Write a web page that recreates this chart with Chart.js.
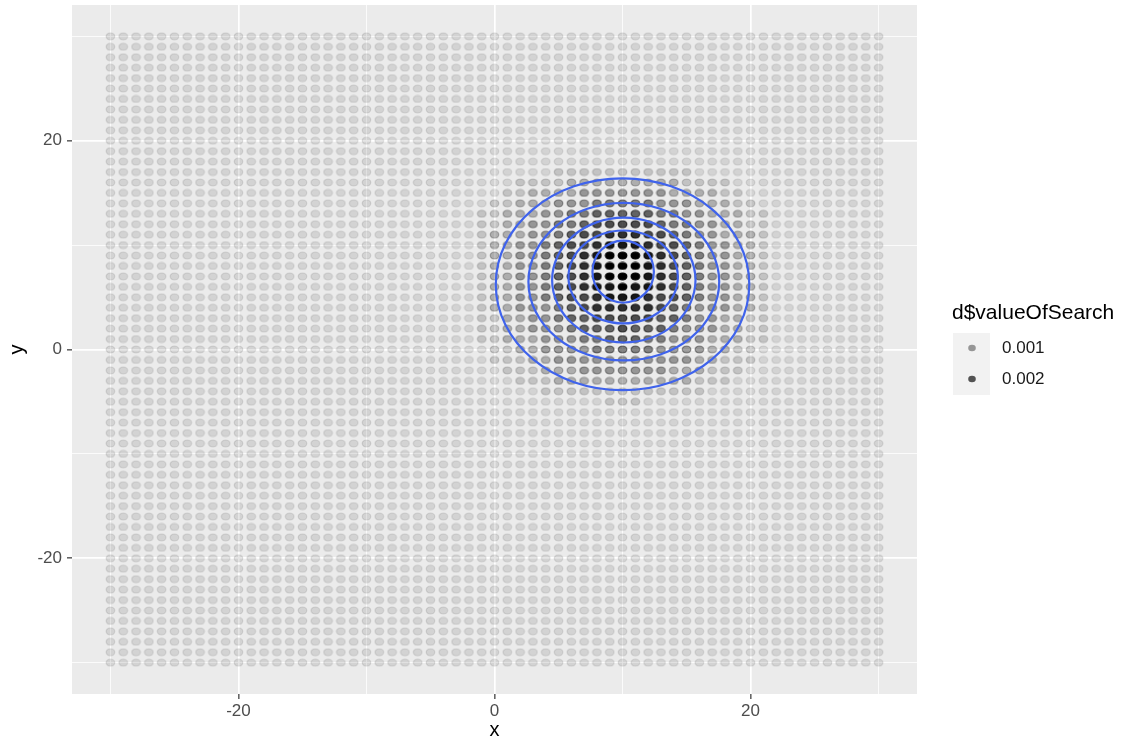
<!DOCTYPE html>
<html>
<head>
<meta charset="utf-8">
<script src="https://cdn.jsdelivr.net/npm/chart.js@4.4.0/dist/chart.umd.min.js"></script>
<style>
  body { margin: 0; background: #ffffff; }
  #wrap { width: 1145px; height: 740px; }
</style>
</head>
<body>
<div id="wrap"><canvas id="densityChart" width="1145" height="740"></canvas></div>
<script>
// grid of search positions (x and y both run -30..30)
const gridX = [];
for (let v = -30; v <= 30; v++) gridX.push(v);
const gridY = gridX.slice();

// axis ticks (grid lines every 10, labels on the majors)
const tickValues = [-30, -20, -10, 0, 10, 20, 30];
const majorTicks = [-20, 0, 20];

// shade, 0 = faint background dot ... 9 = black
// first row is y = 17, first column is x = -2
const shadeTopY = 17;
const shadeLeftX = -2;
const shadeRows = [
  "0000000111111111110000000", // 17
  "0000111122222222211110000", // 16
  "0001122223333333222211000", // 15
  "0011222333444443332221100", // 14
  "0112223344555554433222110", // 13
  "0112233445666665443322110", // 12
  "0122233456677766543322210", // 11
  "0122334566788876654332210", // 10
  "0122334567899987654332210", // 9
  "0122334567899987654332210", // 8
  "0122334567899987654332210", // 7
  "0122334567889887654332210", // 6
  "0122334566788876654332210", // 5
  "0122333456777776543332210", // 4
  "0112233455666665543322110", // 3
  "0112233345556555433322110", // 2
  "0112223334455544333222110", // 1
  "0011223333444443333221100", // 0
  "0011122333333333332211100", // -1
  "0001112223333333222111000", // -2
  "0000111222222222221110000", // -3
  "0000001111111111111000000", // -4
  "0000000000011100000000000"  // -5
];
// opacity of each shade step
const alphaLevels = [0.1, 0.17, 0.26, 0.36, 0.47, 0.58, 0.68, 0.8, 0.9, 1.0];

// density contours, points read around each ring
const contour1 = [[19.9,6.25],[19.15,10.14],[17.0,13.43],[13.79,15.63],[10.0,16.4],[6.21,15.63],[3.0,13.43],[0.85,10.14],
                  [0.1,6.25],[0.85,2.36],[3.0,-0.93],[6.21,-3.13],[10.0,-3.9],[13.79,-3.13],[17.0,-0.93],[19.15,2.36]];
const contour2 = [[17.55,6.5],[16.98,9.39],[15.37,11.84],[12.95,13.48],[10.1,14.05],[7.25,13.48],[4.83,11.84],[3.22,9.39],
                  [2.65,6.5],[3.22,3.61],[4.83,1.16],[7.25,-0.48],[10.1,-1.05],[12.95,-0.48],[15.37,1.16],[16.98,3.61]];
const contour3 = [[15.7,6.65],[15.27,8.94],[14.06,10.88],[12.24,12.18],[10.1,12.63],[7.96,12.18],[6.14,10.88],[4.93,8.94],
                  [4.5,6.65],[4.93,4.36],[6.14,2.42],[7.96,1.12],[10.1,0.67],[12.24,1.12],[14.06,2.42],[15.27,4.36]];
const contour4 = [[14.32,6.95],[14.0,8.65],[13.07,10.1],[11.68,11.06],[10.05,11.4],[8.42,11.06],[7.03,10.1],[6.1,8.65],
                  [5.78,6.95],[6.1,5.25],[7.03,3.8],[8.42,2.84],[10.05,2.5],[11.68,2.84],[13.07,3.8],[14.0,5.25]];
const contour5 = [[12.45,7.45],[12.27,8.59],[11.75,9.55],[10.97,10.19],[10.05,10.42],[9.13,10.19],[8.35,9.55],[7.83,8.59],
                  [7.65,7.45],[7.83,6.31],[8.35,5.35],[9.13,4.71],[10.05,4.48],[10.97,4.71],[11.75,5.35],[12.27,6.31]];
const contours = [contour1, contour2, contour3, contour4, contour5];

// legend
const legendTitle = "d$valueOfSearch";
const legendLabels = ["0.001", "0.002"];
const legendAlphas = [0.38, 0.66];

function shadeAt(x, y) {
  const r = shadeTopY - y;
  if (r < 0 || r >= shadeRows.length) return 0;
  const c = x - shadeLeftX;
  if (c < 0 || c >= shadeRows[r].length) return 0;
  return Number(shadeRows[r][c]);
}

// slightly wide dots like the original render
const dotImages = alphaLevels.map(function(a) {
  const c = document.createElement('canvas');
  c.width = 11; c.height = 9;
  const g = c.getContext('2d');
  g.beginPath();
  g.ellipse(5.5, 4.5, 4.3, 3.5, 0, 0, Math.PI * 2);
  g.fillStyle = 'rgba(0,0,0,' + a + ')';
  g.fill();
  g.lineWidth = 1.2;
  g.strokeStyle = 'rgba(0,0,0,' + a + ')';
  g.stroke();
  return c;
});

const points = [];
gridY.forEach(function(y) {
  gridX.forEach(function(x) {
    points.push({ x: x, y: y, v: shadeAt(x, y) });
  });
});

const lineBlue = '#3f63ec';
// each ring is wrapped with one extra point on both ends so the smoothed
// curve has real neighbours everywhere; the two padding segments are hidden
const contourSets = contours.map(function(ring) {
  const n = ring.length;
  const wrapped = [ring[n - 1]].concat(ring, [ring[0], ring[1]]);
  const lastIndex = wrapped.length - 1;
  return {
    data: wrapped.map(function(p) { return { x: p[0], y: p[1] }; }),
    showLine: true,
    borderColor: lineBlue,
    borderWidth: 2.2,
    pointRadius: 0,
    tension: 0.35,
    fill: false,
    order: 1,
    segment: {
      borderColor: function(c) {
        return (c.p0DataIndex === 0 || c.p1DataIndex === lastIndex) ? 'rgba(0,0,0,0)' : lineBlue;
      }
    }
  };
});

const panelBackground = {
  id: 'panelBackground',
  beforeDraw(chart) {
    const a = chart.chartArea;
    const ctx = chart.ctx;
    ctx.save();
    ctx.fillStyle = '#ebebeb';
    ctx.fillRect(a.left, a.top, a.right - a.left, a.bottom - a.top);
    ctx.restore();
  }
};

const alphaLegend = {
  id: 'alphaLegend',
  afterDraw(chart) {
    const ctx = chart.ctx;
    ctx.save();
    ctx.fillStyle = '#000000';
    ctx.font = '21px "Liberation Sans", Arial, sans-serif';
    ctx.textBaseline = 'middle';
    ctx.textAlign = 'left';
    ctx.fillText(legendTitle, 952, 313);
    ctx.fillStyle = '#f2f2f2';
    ctx.fillRect(953, 333, 37, 62);
    legendLabels.forEach(function(label, i) {
      const cy = 348 + i * 31;
      ctx.beginPath();
      ctx.ellipse(972, cy, 3.8, 3.2, 0, 0, Math.PI * 2);
      ctx.fillStyle = 'rgba(0,0,0,' + legendAlphas[i] + ')';
      ctx.fill();
      ctx.fillStyle = '#1a1a1a';
      ctx.font = '17px "Liberation Sans", Arial, sans-serif';
      ctx.fillText(label, 1002, cy);
    });
    ctx.restore();
  }
};

function axisOptions(titleText, isX) {
  return {
    type: 'linear',
    min: -33,
    max: 33,
    afterBuildTicks: function(scale) {
      scale.ticks = tickValues.map(function(v) { return { value: v }; });
    },
    afterFit: function(scale) {
      if (isX) {
        scale.height = 46;
        scale.paddingLeft = 0;
        scale.paddingRight = 0;
      } else {
        scale.width = 72;
        scale.paddingTop = 0;
        scale.paddingBottom = 0;
      }
    },
    border: { display: false },
    grid: {
      color: '#ffffff',
      lineWidth: function(c) { return majorTicks.includes(c.tick.value) ? 1.7 : 0.8; },
      tickColor: function(c) { return majorTicks.includes(c.tick.value) ? '#333333' : 'rgba(0,0,0,0)'; },
      tickLength: 5,
      tickWidth: 1.2
    },
    ticks: {
      autoSkip: false,
      maxRotation: 0,
      padding: isX ? 2 : 5,
      color: '#4d4d4d',
      font: { family: '"Liberation Sans", Arial, sans-serif', size: 17 },
      callback: function(v) { return majorTicks.includes(v) ? String(v) : ''; }
    },
    title: {
      display: true,
      text: titleText,
      color: '#000000',
      font: { family: '"Liberation Sans", Arial, sans-serif', size: 20, lineHeight: 1 },
      padding: isX ? { top: 0, bottom: 0 } : { top: 7, bottom: 0 }
    }
  };
}

const ctx = document.getElementById('densityChart').getContext('2d');
const densityChart = new Chart(ctx, {
  type: 'scatter',
  data: {
    datasets: contourSets.concat([{
      data: points,
      pointStyle: function(c) { return dotImages[c.raw ? c.raw.v : 0]; },
      pointRadius: 4,
      order: 2
    }])
  },
  options: {
    responsive: false,
    devicePixelRatio: 1,
    animation: false,
    events: [],
    layout: { padding: { left: 0, right: 228, top: 4, bottom: 0 } },
    plugins: {
      legend: { display: false },
      tooltip: { enabled: false }
    },
    scales: {
      x: axisOptions('x', true),
      y: axisOptions('y', false)
    }
  },
  plugins: [panelBackground, alphaLegend]
});
</script>
</body>
</html>
